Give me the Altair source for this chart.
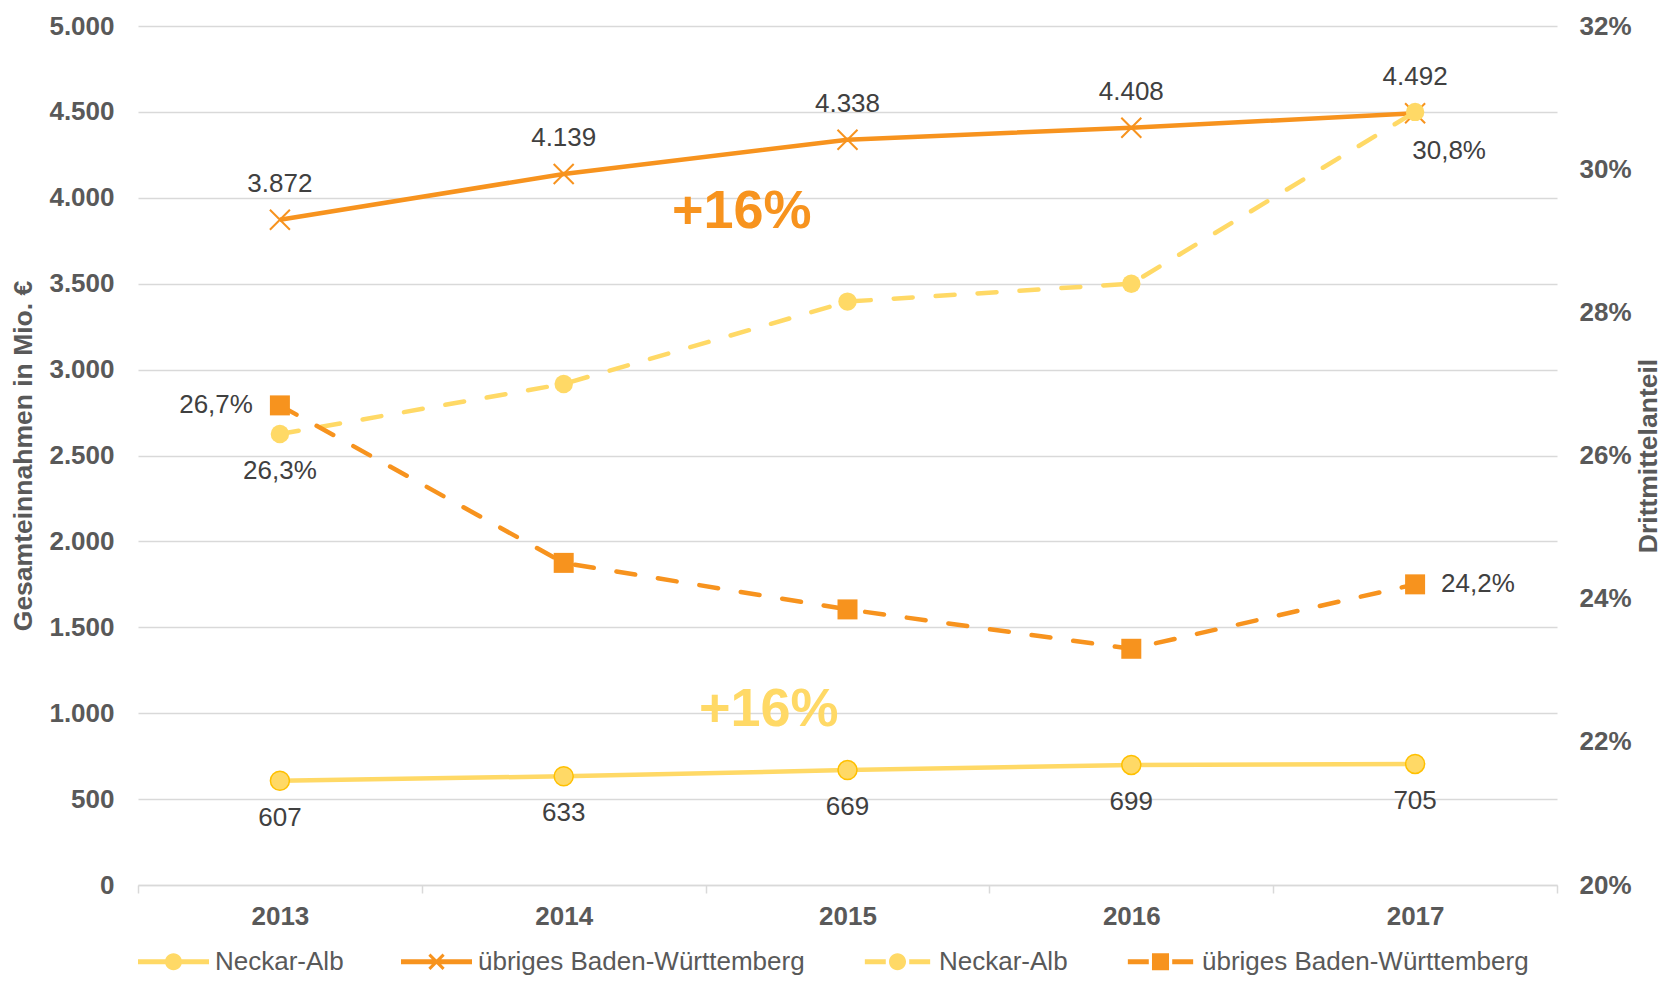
import altair as alt
import pandas as pd

# ---------------- data ----------------
years = ["2013", "2014", "2015", "2016", "2017"]
na_abs = [607, 633, 669, 699, 705]
bw_abs = [3872, 4139, 4338, 4408, 4492]
na_pct = [26.3, 27.0, 28.15, 28.4, 30.8]
bw_pct = [26.7, 24.5, 23.85, 23.3, 24.2]

series_keys = ["na_abs", "bw_abs", "na_pct", "bw_pct"]
series_labels = ["Neckar-Alb", "übriges Baden-Württemberg", "Neckar-Alb", "übriges Baden-Württemberg"]

ann_text = ["+16%", "+16%"]
ann_year = ["2014", "2014"]
ann_value = [3920, 1020]

left_ticks = list(range(0, 5001, 500))
right_ticks = [20, 22, 24, 26, 28, 30, 32]

# ---------------- style ----------------
ORANGE = "#F7931E"
YELLOW = "#FFD966"
YELLOW_EDGE = "#FFC000"
GRID = "#D9D9D9"
AXIS_TXT = "#595959"
LBL_TXT = "#404040"
FONT = "Liberation Sans"


def fmt_abs(v):
    return f"{v:,}".replace(",", ".")


def fmt_pct(v):
    return f"{v:.1f}".replace(".", ",") + "%"


df_na_abs = pd.DataFrame({"year": years, "value": na_abs, "label": [fmt_abs(v) for v in na_abs]})
df_bw_abs = pd.DataFrame({"year": years, "value": bw_abs, "label": [fmt_abs(v) for v in bw_abs]})
df_na_pct = pd.DataFrame({"year": years, "value": na_pct, "label": [fmt_pct(v) for v in na_pct]})
df_bw_pct = pd.DataFrame({"year": years, "value": bw_pct, "label": [fmt_pct(v) for v in bw_pct]})
df_ann = pd.DataFrame({"year": ann_year, "value": ann_value, "label": ann_text})
df_leg = pd.DataFrame({"series": series_keys, "name": series_labels})

# ---------------- encodings ----------------
x_enc = alt.X(
    "year:O",
    bandPosition=0.5,
    scale=alt.Scale(type="band", paddingInner=0, paddingOuter=0, domain=years),
    axis=alt.Axis(
        title=None, labelAngle=0, tickBand="extent", grid=False,
        labelFont=FONT, labelFontSize=26, labelFontWeight="bold", labelColor=AXIS_TXT,
        labelPadding=10, domainColor=GRID, domainWidth=1.5,
        tickColor=GRID, tickWidth=1.5, tickSize=8,
    ),
)

y_left = alt.Y(
    "value:Q",
    scale=alt.Scale(domain=[0, 5000], nice=False, zero=True),
    axis=alt.Axis(
        orient="left", values=left_ticks,
        labelExpr="replace(format(datum.value, ','), ',', '.')",
        title="Gesamteinnahmen in Mio. €",
        titleFont=FONT, titleFontSize=26.5, titleFontWeight="bold", titleColor=AXIS_TXT,
        titlePadding=11,
        labelFont=FONT, labelFontSize=26, labelFontWeight="bold", labelColor=AXIS_TXT,
        labelPadding=24, domain=False, ticks=False,
        grid=True, gridColor=GRID, gridWidth=1.5,
    ),
)

y_right = alt.Y(
    "value:Q",
    scale=alt.Scale(domain=[20, 32], nice=False, zero=False),
    axis=alt.Axis(
        orient="right", values=right_ticks,
        labelExpr="datum.value + '%'",
        title="Drittmittelanteil", titleAngle=270,
        titleFont=FONT, titleFontSize=26.5, titleFontWeight="bold", titleColor=AXIS_TXT,
        titlePadding=31,
        labelFont=FONT, labelFontSize=26, labelFontWeight="bold", labelColor=AXIS_TXT,
        labelPadding=22, domain=False, ticks=False, grid=False,
    ),
)

# ---------------- legend symbol paths (units: half symbol width = 1) ----------------
def rect(x0, x1, h):
    return f"M{x0},{-h}H{x1}V{h}H{x0}Z"


def circle(r):
    return f"M{-r},0A{r},{r} 0 1,1 {r},0A{r},{r} 0 1,1 {-r},0Z"


def square(s):
    return f"M{-s},{-s}H{s}V{s}H{-s}Z"


def xmark(s, d):
    a = f"M{-s + d},{-s - d}L{s + d},{s - d}L{s - d},{s + d}L{-s - d},{-s + d}Z"
    b = f"M{s - d},{-s - d}L{s + d},{-s + d}L{-s + d},{s + d}L{-s - d},{s - d}Z"
    return a + b


LH = 0.07
sym_na_abs = rect(-1, -0.22, LH) + rect(0.22, 1, LH) + circle(0.24)
sym_bw_abs = rect(-1, 1, LH) + xmark(0.2, 0.03)
sym_na_pct = rect(-0.92, -0.33, LH) + rect(0.33, 0.92, LH) + circle(0.24)
sym_bw_pct = rect(-0.92, -0.33, LH) + rect(0.33, 0.92, LH) + square(0.24)

label_expr = (
    "datum.value == 'na_abs' ? 'Neckar-Alb' : datum.value == 'bw_abs' ? 'übriges Baden-Württemberg' : "
    "datum.value == 'na_pct' ? 'Neckar-Alb' : 'übriges Baden-Württemberg'"
)

legend = alt.Legend(
    title=None, orient="none", legendX=0, legendY=900,
    direction="horizontal", columns=4,
    symbolSize=5041, symbolStrokeWidth=0, symbolOpacity=1,
    labelFont=FONT, labelFontSize=26, labelColor=AXIS_TXT,
    labelOffset=6, columnPadding=57, labelExpr=label_expr, labelLimit=600,
)

legend_layer = alt.Chart(df_leg).mark_point(filled=True, opacity=1).encode(
    x=alt.value(-3000),
    y=alt.value(-3000),
    color=alt.Color("series:N", scale=alt.Scale(domain=series_keys, range=[YELLOW, ORANGE, YELLOW, ORANGE]), legend=legend),
    shape=alt.Shape("series:N", scale=alt.Scale(domain=series_keys, range=[sym_na_abs, sym_bw_abs, sym_na_pct, sym_bw_pct]), legend=legend),
)

# ---------------- left (Mio. €) layers ----------------
bw_abs_line = alt.Chart(df_bw_abs).mark_line(color=ORANGE, strokeWidth=4.5).encode(x=x_enc, y=y_left)
bw_abs_pts = alt.Chart(df_bw_abs).mark_point(
    shape="M-1,-1L1,1M-1,1L1,-1", filled=False, stroke=ORANGE, strokeWidth=2, size=400, opacity=1
).encode(x=x_enc, y=y_left)
bw_abs_lbl = alt.Chart(df_bw_abs).mark_text(
    font=FONT, fontSize=26, color=LBL_TXT, dy=-36, baseline="middle"
).encode(x=x_enc, y=y_left, text="label:N")

na_abs_line = alt.Chart(df_na_abs).mark_line(color=YELLOW, strokeWidth=4.5).encode(x=x_enc, y=y_left)
na_abs_pts = alt.Chart(df_na_abs).mark_point(
    shape="circle", filled=True, fill=YELLOW, stroke=YELLOW_EDGE, strokeWidth=1.5, size=361, opacity=1
).encode(x=x_enc, y=y_left)
na_abs_lbl = alt.Chart(df_na_abs).mark_text(
    font=FONT, fontSize=26, color=LBL_TXT, dy=37, baseline="middle"
).encode(x=x_enc, y=y_left, text="label:N")

ann_orange = alt.Chart(df_ann.iloc[[0]]).mark_text(
    font=FONT, fontSize=54, fontWeight="bold", color=ORANGE, dx=178, baseline="middle"
).encode(x=x_enc, y=y_left, text="label:N")
ann_yellow = alt.Chart(df_ann.iloc[[1]]).mark_text(
    font=FONT, fontSize=54, fontWeight="bold", color=YELLOW, dx=205, baseline="middle"
).encode(x=x_enc, y=y_left, text="label:N")

left = alt.layer(
    bw_abs_line, na_abs_line, bw_abs_pts, na_abs_pts, bw_abs_lbl, na_abs_lbl,
    ann_orange, ann_yellow, legend_layer,
)

# ---------------- right (%) layers ----------------
na_pct_line = alt.Chart(df_na_pct).mark_line(
    color=YELLOW, strokeWidth=4.5, strokeDash=[19, 23], strokeCap="round"
).encode(x=x_enc, y=y_right)
na_pct_pts = alt.Chart(df_na_pct).mark_point(
    shape="circle", filled=True, color=YELLOW, size=340, opacity=1
).encode(x=x_enc, y=y_right)
bw_pct_line = alt.Chart(df_bw_pct).mark_line(
    color=ORANGE, strokeWidth=4.5, strokeDash=[19, 23], strokeCap="round"
).encode(x=x_enc, y=y_right)
bw_pct_pts = alt.Chart(df_bw_pct).mark_point(
    shape="square", filled=True, color=ORANGE, size=400, opacity=1
).encode(x=x_enc, y=y_right)

lbl_style = dict(font=FONT, fontSize=26, color=LBL_TXT, baseline="middle")
na_pct_first = alt.Chart(df_na_pct[df_na_pct.year == "2013"]).mark_text(dy=37, **lbl_style).encode(
    x=x_enc, y=y_right, text="label:N")
na_pct_last = alt.Chart(df_na_pct[df_na_pct.year == "2017"]).mark_text(dx=34, dy=39, **lbl_style).encode(
    x=x_enc, y=y_right, text="label:N")
bw_pct_first = alt.Chart(df_bw_pct[df_bw_pct.year == "2013"]).mark_text(dx=-27, align="right", **lbl_style).encode(
    x=x_enc, y=y_right, text="label:N")
bw_pct_last = alt.Chart(df_bw_pct[df_bw_pct.year == "2017"]).mark_text(dx=26, align="left", **lbl_style).encode(
    x=x_enc, y=y_right, text="label:N")

right = alt.layer(
    na_pct_line, bw_pct_line, na_pct_pts, bw_pct_pts,
    na_pct_first, na_pct_last, bw_pct_first, bw_pct_last,
)

chart = (
    alt.layer(left, right)
    .resolve_scale(y="independent")
    .properties(
        width=1419, height=859,
        autosize=alt.AutoSizeParams(type="none"),
        padding={"left": 130, "top": 18, "right": 105, "bottom": 91},
        background="white",
    )
    .configure_view(stroke=None)
)

chart.save("out.html", embed_options={"renderer": "svg", "actions": False})
